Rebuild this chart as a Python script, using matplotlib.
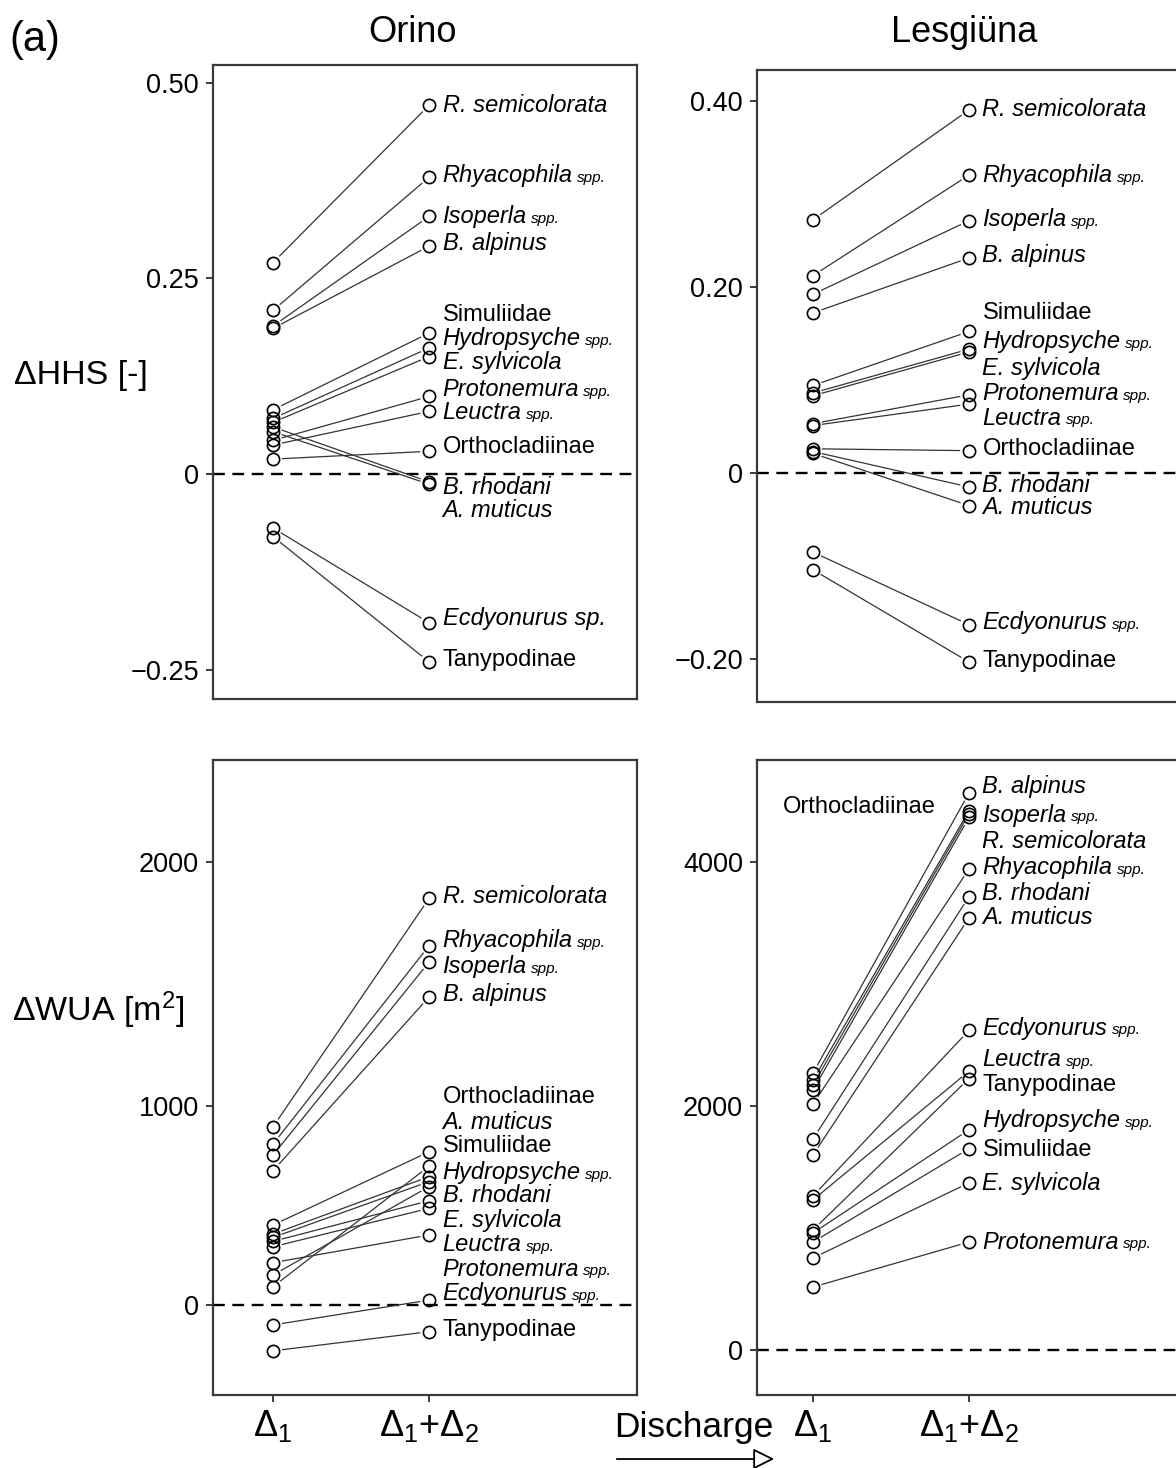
import numpy as np
import matplotlib
matplotlib.use('Agg')
import matplotlib.pyplot as plt

plt.rcParams['font.family'] = ['Liberation Sans', 'DejaVu Sans']
plt.rcParams['mathtext.fontset'] = 'custom'
plt.rcParams['mathtext.rm'] = 'Liberation Sans'
plt.rcParams['mathtext.it'] = 'Liberation Sans:italic'

W, H = 1176, 1468

# taxa, same order in every panel
species = ['R. semicolorata', 'Rhyacophila', 'Isoperla', 'B. alpinus', 'Simuliidae',
           'Hydropsyche', 'E. sylvicola', 'Protonemura', 'Leuctra', 'Orthocladiinae',
           'B. rhodani', 'A. muticus', 'Ecdyonurus', 'Tanypodinae']
upright = ['Simuliidae', 'Orthocladiinae', 'Tanypodinae']
with_spp = ['Rhyacophila', 'Isoperla', 'Hydropsyche', 'Protonemura', 'Leuctra', 'Ecdyonurus']

# delta HHS, Orino
hhs_orino_d1 = [0.270, 0.209, 0.189, 0.186, 0.082, 0.071, 0.066, 0.043, 0.037, 0.019,
                0.060, 0.054, -0.069, -0.080]
hhs_orino_d12 = [0.471, 0.379, 0.329, 0.291, 0.180, 0.161, 0.150, 0.099, 0.080, 0.029,
                 -0.010, -0.013, -0.190, -0.240]
# delta HHS, Lesgiuna
hhs_lesg_d1 = [0.272, 0.212, 0.192, 0.172, 0.094, 0.086, 0.083, 0.053, 0.051, 0.026,
               0.023, 0.021, -0.085, -0.104]
hhs_lesg_d12 = [0.390, 0.320, 0.271, 0.231, 0.152, 0.133, 0.130, 0.084, 0.074, 0.024,
                -0.015, -0.035, -0.163, -0.203]
# delta WUA, Orino
wua_orino_d1 = [896, 809, 754, 675, 357, 340, 320, 213, 293, 402, 151, 92, -100, -230]
wua_orino_d12 = [1851, 1657, 1590, 1447, 645, 620, 524, 352, 486, 770, 595, 698, 25, -134]
# delta WUA, Lesgiuna
wua_lesg_d1 = [2172, 2016, 2213, 2270, 885, 959, 754, 516, 1230, 2131, 1730, 1598, 1262, 984]
wua_lesg_d12 = [4395, 3943, 4420, 4566, 1650, 1805, 1370, 885, 2285, 4365, 3716, 3542, 2620, 2225]

# where the names sit (spread out so they do not overlap)
lab_hhs_orino = [0.471, 0.381, 0.329, 0.294, 0.203, 0.173, 0.142, 0.108, 0.078, 0.034,
                 -0.017, -0.047, -0.185, -0.237]
lab_hhs_lesg = [0.390, 0.320, 0.272, 0.234, 0.172, 0.141, 0.112, 0.085, 0.059, 0.026,
                -0.013, -0.037, -0.161, -0.202]
lab_wua_orino = [1857, 1680, 1570, 1459, 799, 668, 427, 181, 302, 1037, 548, 915, 60, -126]
lab_wua_lesg = [4172, 3951, 4385, 4615, 1639, 1877, 1361, 885, 2377, None, 3738, 3541, 2639, 2172]

xcat = [1, 2]
xlabels = [r'$\mathregular{Δ_1}$', r'$\mathregular{Δ_1{+}Δ_2}$']


def box(l, t, r, b):
    return [l / W, 1 - b / H, (r - l) / W, (b - t) / H]


def gap_line(ax, x0, y0, x1, y1, gap=9.5):
    # line between two points, stopped short of the circles (R type="b" look)
    p0 = ax.transData.transform((x0, y0))
    p1 = ax.transData.transform((x1, y1))
    u = (p1 - p0) / np.hypot(*(p1 - p0))
    inv = ax.transData.inverted()
    a = inv.transform(p0 + u * gap)
    b = inv.transform(p1 - u * gap)
    ax.plot([a[0], b[0]], [a[1], b[1]], color='#333333', lw=0.9, zorder=2)


def put_label(ax, y, name, sp_full=False, x=2, dx=9.7, ha='left'):
    style = 'normal' if name in upright else 'italic'
    text = name
    full = sp_full and name == 'Ecdyonurus'
    if full:
        text = 'Ecdyonurus sp.'
    t = ax.annotate(text, (x, y), xytext=(dx, 0), textcoords='offset points',
                    va='center', ha=ha, fontsize=17, fontstyle=style,
                    annotation_clip=False)
    if name in with_spp and not full:
        ax.annotate('spp.', xy=(1, 0), xycoords=t, xytext=(3, 1.5),
                    textcoords='offset points', va='bottom', ha='left',
                    fontsize=11, fontstyle='italic', annotation_clip=False)


def setup(ax, ylim, ticks, ticklabels, xlim, bottom):
    ax.set_xlim(*xlim)
    ax.set_ylim(*ylim)
    ax.set_yticks(ticks, ticklabels)
    for s in ax.spines.values():
        s.set_color('#3a3a3a')
        s.set_linewidth(1.6)
    ax.tick_params(axis='y', direction='out', length=5, width=1.4, pad=5,
                   labelsize=19.5, color='#3a3a3a')
    if bottom:
        ax.set_xticks(xcat, xlabels)
        ax.tick_params(axis='x', direction='out', length=5, width=1.4, pad=4,
                       labelsize=26, color='#3a3a3a')
    else:
        ax.set_xticks([])
    ax.axhline(0, color='black', lw=1.7, ls=(0, (5, 3.2)), zorder=1)


def draw_panel(ax, d1, d12, labels, sp_full=False):
    for a, b in zip(d1, d12):
        gap_line(ax, 1, a, 2, b)
    ax.plot(np.ones(len(d1)), d1, 'o', ms=8.8, mfc='none', mec='black', mew=1.2, zorder=3)
    ax.plot(np.full(len(d12), 2), d12, 'o', ms=8.8, mfc='none', mec='black', mew=1.2, zorder=3)
    for name, ly in zip(species, labels):
        if ly is not None:
            put_label(ax, ly, name, sp_full=sp_full)


def main():
    fig = plt.figure(figsize=(W / 100, H / 100), dpi=100)

    # top left: delta HHS Orino
    ax1 = fig.add_axes(box(213, 65, 637, 699))
    setup(ax1, (-0.2874, 0.5224), [-0.25, 0, 0.25, 0.5], ['−0.25', '0', '0.25', '0.50'],
          (0.615, 3.333), False)
    draw_panel(ax1, hhs_orino_d1, hhs_orino_d12, lab_hhs_orino, sp_full=True)

    # top right: delta HHS Lesgiuna
    ax2 = fig.add_axes(box(757, 70, 1181, 702))
    setup(ax2, (-0.246, 0.4329), [-0.2, 0, 0.2, 0.4], ['−0.20', '0', '0.20', '0.40'],
          (0.641, 3.359), False)
    draw_panel(ax2, hhs_lesg_d1, hhs_lesg_d12, lab_hhs_lesg)

    # bottom left: delta WUA Orino, axis above 1000 is stretched as in the original
    k = 244 / 199

    def fwd(y):
        y = np.asarray(y, dtype=float)
        return np.where(y <= 1000, y, 1000 + (y - 1000) * k)

    def inv(u):
        u = np.asarray(u, dtype=float)
        return np.where(u <= 1000, u, 1000 + (u - 1000) / k)

    ax3 = fig.add_axes(box(213, 760, 637, 1395))
    ax3.set_yscale('function', functions=(fwd, inv))
    setup(ax3, (-452, 2418), [0, 1000, 2000], ['0', '1000', '2000'], (0.615, 3.333), True)
    draw_panel(ax3, wua_orino_d1, wua_orino_d12, lab_wua_orino)

    # bottom right: delta WUA Lesgiuna
    ax4 = fig.add_axes(box(757, 760, 1181, 1395))
    setup(ax4, (-369, 4836), [0, 2000, 4000], ['0', '2000', '4000'], (0.641, 3.359), True)
    draw_panel(ax4, wua_lesg_d1, wua_lesg_d12, lab_wua_lesg)
    put_label(ax4, 4451, 'Orthocladiinae', x=0.81, dx=0)

    # titles and axis labels
    fig.text(413 / W, 1 - 33 / H, 'Orino', fontsize=26, ha='center', va='center')
    fig.text(964 / W, 1 - 33 / H, 'Lesgiüna', fontsize=26, ha='center', va='center')
    fig.text(9 / W, 1 - 40 / H, '(a)', fontsize=30, ha='left', va='center')
    fig.text(14 / W, 1 - 375 / H, 'ΔHHS [-]', fontsize=24.5, ha='left', va='center')
    fig.text(12 / W, 1 - 1010 / H, r'$\mathregular{ΔWUA\ [m^2]}$', fontsize=24.5,
             ha='left', va='center')

    fig.text(614 / W, 1 - 1428 / H, 'Discharge', fontsize=25.5, ha='left', va='center')
    fig.add_artist(matplotlib.patches.FancyArrowPatch(
        (614 / W, 1 - 1459 / H), (777 / W, 1 - 1459 / H), transform=fig.transFigure,
        arrowstyle='-|>,head_length=10,head_width=5', mutation_scale=1.3,
        fc='white', ec='black', lw=1.3))

    fig.savefig('out.png', dpi=100)


if __name__ == "__main__":
    main()
